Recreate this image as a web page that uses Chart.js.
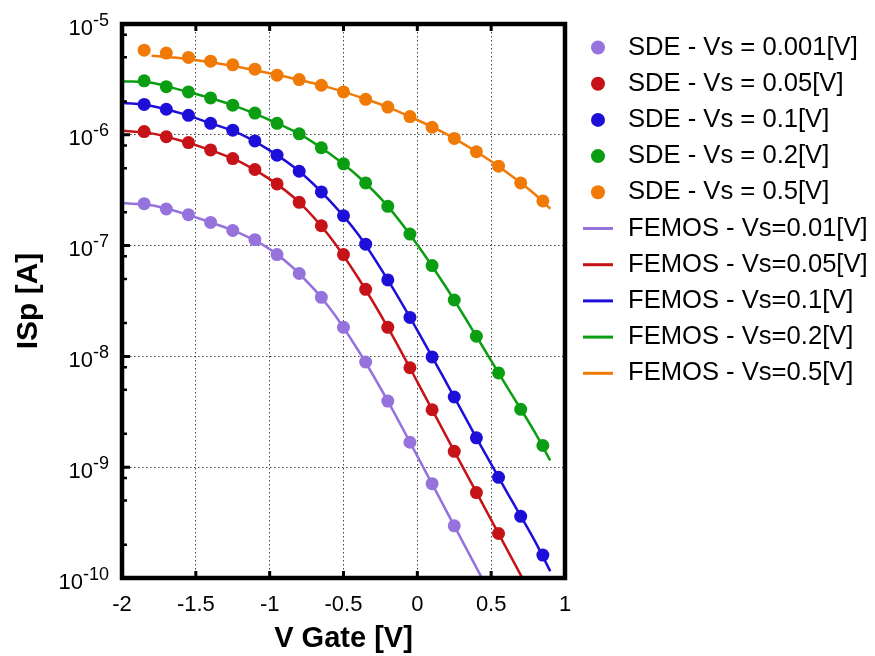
<!DOCTYPE html>
<html lang="en">
<head>
<meta charset="UTF-8">
<title>ISp x V Gate</title>
<script src="https://cdn.jsdelivr.net/npm/chart.js"></script>
<style>
    html, body { margin: 0; padding: 0; background: #fff; }
    #grafico { display: block; }
</style>
</head>
<body>
<canvas id="grafico" width="875" height="656"></canvas>
<script>
    // SDE samples (gate voltage in V, current in A)
    const vGate = [-1.85, -1.7, -1.55, -1.4, -1.25, -1.1, -0.95, -0.8, -0.65, -0.5, -0.35, -0.2, -0.05, 0.1, 0.25, 0.4, 0.55, 0.7, 0.85];
    const sde001 = [2.39e-7, 2.14e-7, 1.90e-7, 1.62e-7, 1.37e-7, 1.13e-7, 8.3e-8, 5.6e-8, 3.41e-8, 1.83e-8, 8.9e-9, 3.95e-9, 1.68e-9, 7.1e-10, 2.96e-10];
    const sde005 = [1.07e-6, 9.6e-7, 8.5e-7, 7.3e-7, 6.1e-7, 4.86e-7, 3.6e-7, 2.46e-7, 1.51e-7, 8.3e-8, 4.03e-8, 1.83e-8, 7.9e-9, 3.3e-9, 1.39e-9, 5.9e-10, 2.52e-10];
    const sde01 = [1.88e-6, 1.70e-6, 1.50e-6, 1.27e-6, 1.10e-6, 8.8e-7, 6.55e-7, 4.69e-7, 3.05e-7, 1.86e-7, 1.03e-7, 4.9e-8, 2.25e-8, 9.9e-9, 4.3e-9, 1.84e-9, 8.1e-10, 3.6e-10, 1.61e-10];
    const sde02 = [3.07e-6, 2.72e-6, 2.44e-6, 2.15e-6, 1.85e-6, 1.57e-6, 1.27e-6, 1.02e-6, 7.64e-7, 5.47e-7, 3.68e-7, 2.26e-7, 1.27e-7, 6.6e-8, 3.23e-8, 1.52e-8, 7.1e-9, 3.33e-9, 1.57e-9];
    const sde05 = [5.8e-6, 5.46e-6, 4.99e-6, 4.62e-6, 4.28e-6, 3.91e-6, 3.45e-6, 3.15e-6, 2.80e-6, 2.44e-6, 2.09e-6, 1.78e-6, 1.46e-6, 1.17e-6, 9.27e-7, 7.03e-7, 5.21e-7, 3.68e-7, 2.53e-7];

    // FEMOS model curves
    const vGateModel = [-2.0, -1.8, -1.6, -1.4, -1.2, -1.0, -0.8, -0.6, -0.4, -0.2, 0.0, 0.2, 0.4, 0.6, 0.8, 0.9];
    const femos001 = [2.42e-7, 2.31e-7, 1.98e-7, 1.62e-7, 1.29e-7, 9.3e-8, 5.6e-8, 2.8e-8, 1.13e-8, 3.95e-9, 1.26e-9, 3.95e-10, 1.24e-10, 3.9e-11, null, null];
    const femos005 = [1.09e-6, 1.03e-6, 8.85e-7, 7.28e-7, 5.69e-7, 3.98e-7, 2.46e-7, 1.24e-7, 5.1e-8, 1.83e-8, 5.9e-9, 1.86e-9, 5.93e-10, 1.89e-10, 6.0e-11, null];
    const femos01 = [1.95e-6, 1.82e-6, 1.56e-6, 1.27e-6, 1.02e-6, 7.24e-7, 4.69e-7, 2.6e-7, 1.26e-7, 4.9e-8, 1.72e-8, 5.68e-9, 1.84e-9, 6.17e-10, 2.11e-10, 1.15e-10];
    const femos02 = [3.05e-6, 2.95e-6, 2.53e-6, 2.15e-6, 1.75e-6, 1.36e-6, 1.02e-6, 6.84e-7, 4.2e-7, 2.26e-7, 1.02e-7, 4.1e-8, 1.52e-8, 5.5e-9, 2.02e-9, 1.15e-9];
    const femos05 = [null, 5.16e-6, 4.9e-6, 4.52e-6, 4.07e-6, 3.59e-6, 3.13e-6, 2.68e-6, 2.21e-6, 1.78e-6, 1.36e-6, 1.01e-6, 7.03e-7, 4.65e-7, 2.88e-7, 2.15e-7];

    const sdeLabels = ['SDE - Vs = 0.001[V]', 'SDE - Vs = 0.05[V]', 'SDE - Vs = 0.1[V]', 'SDE - Vs = 0.2[V]', 'SDE - Vs = 0.5[V]'];
    const femosLabels = ['FEMOS - Vs=0.01[V]', 'FEMOS - Vs=0.05[V]', 'FEMOS - Vs=0.1[V]', 'FEMOS - Vs=0.2[V]', 'FEMOS - Vs=0.5[V]'];
    const cores = ['#9572dc', '#c51317', '#1e0fd8', '#0c9e12', '#f07a05'];

    // y axis: decades get labels, 2/5/8 get small marks
    const yDecades = [1e-10, 1e-9, 1e-8, 1e-7, 1e-6, 1e-5];
    const yMinor = [2, 5, 8];

    const fonte = '"Liberation Sans", Arial, Helvetica, sans-serif';
    Chart.defaults.font.family = fonte;
    Chart.defaults.color = '#000';

    function pares(xs, ys) {
        return ys.map((y, i) => ({ x: xs[i], y: y })).filter(p => p.y !== null);
    }

    const datasets = [];
    [sde001, sde005, sde01, sde02, sde05].forEach((serie, i) => {
        datasets.push({
            label: sdeLabels[i],
            data: pares(vGate, serie),
            showLine: false,
            pointStyle: 'circle',
            pointRadius: 6.5,
            pointBorderWidth: 0,
            backgroundColor: cores[i],
            borderColor: cores[i]
        });
    });
    [femos001, femos005, femos01, femos02, femos05].forEach((serie, i) => {
        datasets.push({
            label: femosLabels[i],
            data: pares(vGateModel, serie),
            showLine: true,
            pointRadius: 0,
            pointHoverRadius: 0,
            borderWidth: 2.5,
            borderColor: cores[i],
            backgroundColor: cores[i],
            cubicInterpolationMode: 'monotone',
            clip: 0
        });
    });

    // frame, inward tick marks and 10^n labels
    const moldura = {
        id: 'moldura',
        afterDraw(chart) {
            const { ctx, chartArea: a, scales: { x, y } } = chart;
            ctx.save();
            ctx.strokeStyle = '#000';
            ctx.fillStyle = '#000';

            ctx.lineWidth = 3;
            ctx.beginPath();
            x.ticks.forEach(t => {
                const px = x.getPixelForValue(t.value);
                ctx.moveTo(px, a.bottom);
                ctx.lineTo(px, a.bottom - 7);
                ctx.moveTo(px, a.top);
                ctx.lineTo(px, a.top + 7);
            });
            yDecades.forEach(v => {
                const py = y.getPixelForValue(v);
                ctx.moveTo(a.left, py);
                ctx.lineTo(a.left + 8, py);
            });
            ctx.stroke();

            ctx.lineWidth = 2.5;
            ctx.beginPath();
            yDecades.slice(0, -1).forEach(d => {
                yMinor.forEach(m => {
                    const py = y.getPixelForValue(d * m);
                    ctx.moveTo(a.left, py);
                    ctx.lineTo(a.left + 5, py);
                });
            });
            ctx.stroke();

            ctx.lineWidth = 4.5;
            ctx.strokeRect(a.left, a.top, a.right - a.left, a.bottom - a.top);

            ctx.textAlign = 'right';
            ctx.textBaseline = 'alphabetic';
            yDecades.forEach(v => {
                const py = y.getPixelForValue(v);
                const exp = String(Math.round(Math.log10(v)));
                ctx.font = '18px ' + fonte;
                const ew = ctx.measureText(exp).width;
                ctx.fillText(exp, a.left - 13, py + 1.5);
                ctx.font = '22px ' + fonte;
                ctx.fillText('10', a.left - 13 - ew, py + 10.5);
            });
            ctx.restore();
        }
    };

    // key to the right of the frame: dot for SDE, short line for FEMOS
    const legenda = {
        id: 'legenda',
        afterDraw(chart) {
            const { ctx, chartArea: a } = chart;
            ctx.save();
            ctx.font = '25.6px ' + fonte;
            ctx.textAlign = 'left';
            ctx.textBaseline = 'middle';
            chart.data.datasets.forEach((d, i) => {
                const cy = a.top + 23.5 + 36.2 * i;
                const cx = a.right + 33;
                ctx.fillStyle = d.borderColor;
                if (d.showLine) {
                    ctx.fillRect(cx - 15, cy - 1.5, 30, 3);
                } else {
                    ctx.beginPath();
                    ctx.arc(cx, cy, 7, 0, Math.PI * 2);
                    ctx.fill();
                }
                ctx.fillStyle = '#000';
                ctx.fillText(d.label, cx + 30, cy);
            });
            ctx.restore();
        }
    };

    const grade = { color: '#444', lineWidth: 1, drawTicks: false };

    new Chart(document.getElementById('grafico'), {
        type: 'scatter',
        data: { datasets: datasets },
        options: {
            responsive: false,
            animation: false,
            events: [],
            layout: { padding: { top: 24, right: 310, bottom: 0, left: 0 } },
            scales: {
                x: {
                    type: 'linear',
                    min: -2,
                    max: 1,
                    ticks: {
                        stepSize: 0.5,
                        padding: 14,
                        font: { size: 22 },
                        callback: v => String(Math.round(v * 10) / 10)
                    },
                    grid: grade,
                    border: { display: false, dash: [1.5, 2.5] },
                    title: { display: true, text: 'V Gate [V]', font: { size: 29, weight: 'bold' }, padding: 0 },
                    afterFit(s) { s.height = 78; }
                },
                y: {
                    type: 'logarithmic',
                    min: 1e-10,
                    max: 1e-5,
                    afterBuildTicks(s) { s.ticks = yDecades.map(v => ({ value: v })); },
                    ticks: { display: false },
                    grid: grade,
                    border: { display: false, dash: [1.5, 2.5] },
                    title: { display: true, text: 'ISp [A]', font: { size: 30, weight: 'bold' }, padding: { top: 11, bottom: 0 } },
                    afterFit(s) { s.width = 122; }
                }
            },
            plugins: {
                tooltip: { enabled: false },
                legend: { display: false }
            }
        },
        plugins: [moldura, legenda]
    });
</script>
</body>
</html>
